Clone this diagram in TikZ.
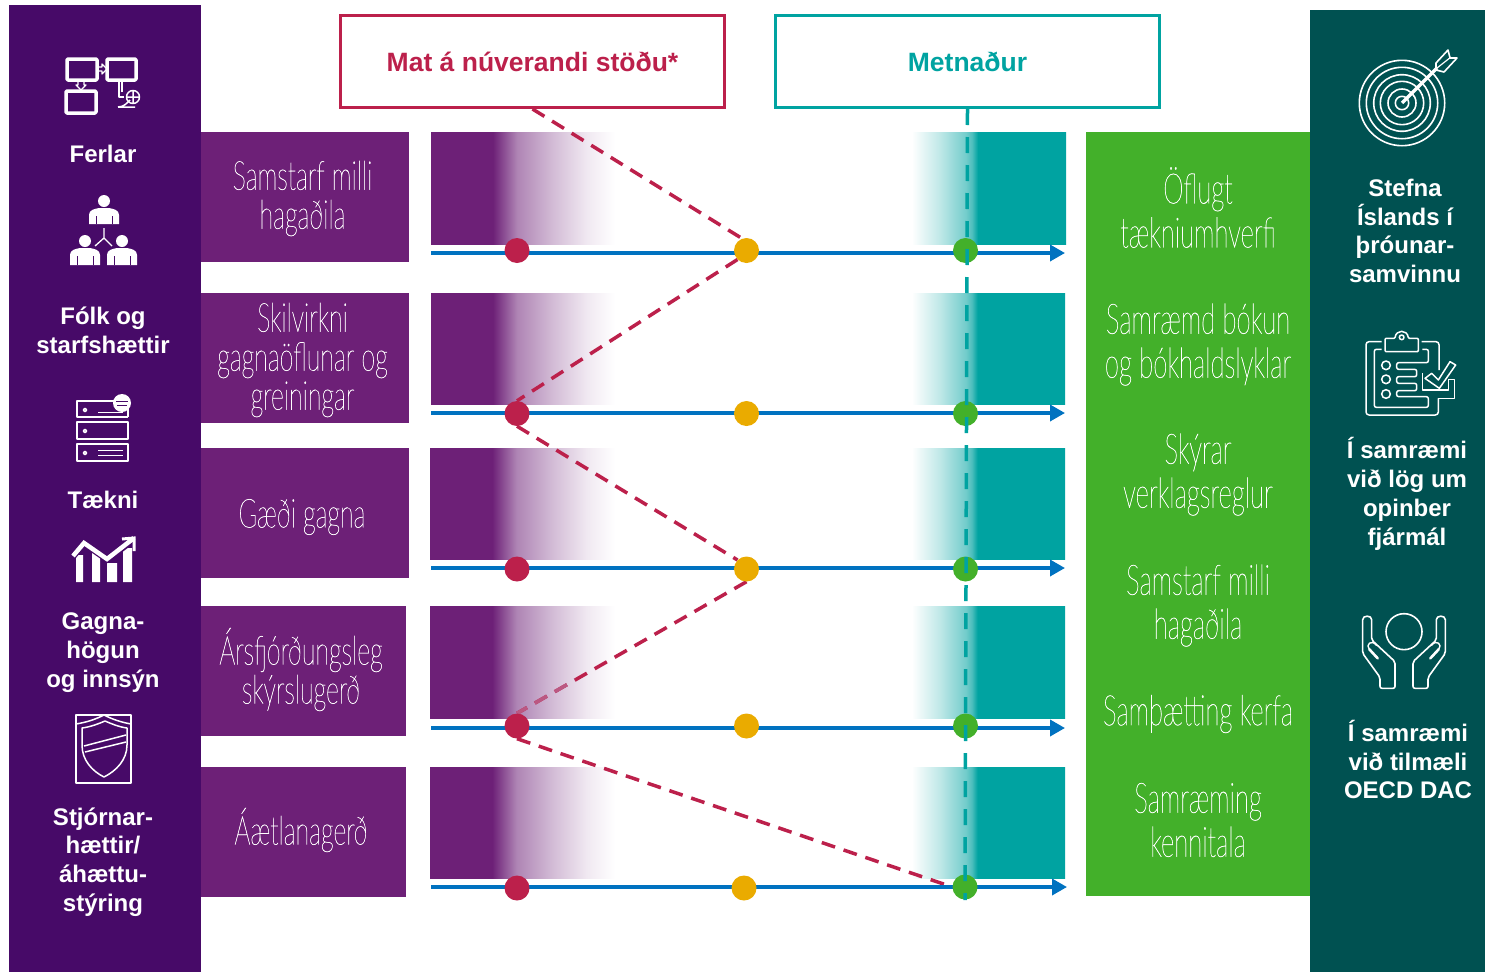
\documentclass[tikz,border=0pt]{standalone}
\usepackage{fontspec}
\setmainfont{Liberation Sans}
\newfontfamily\thinpurple[FakeStretch=0.625,FakeBold=0.7]{Lato Thin}
\newfontfamily\thingreen[FakeStretch=0.613,FakeBold=0.7]{Lato Thin}
\usetikzlibrary{arrows.meta}
\definecolor{pdark}{HTML}{470A68}
\definecolor{pmid}{HTML}{6D2077}
\definecolor{rgreen}{HTML}{005151}
\definecolor{lgreen}{HTML}{43B02A}
\definecolor{crim}{HTML}{BC204B}
\definecolor{tealc}{HTML}{00A3A1}
\definecolor{yel}{HTML}{EAAB00}
\definecolor{blu}{HTML}{0072C0}
\pgfdeclarehorizontalshading{pfade}{100bp}{color(0bp)=(pmid); color(41.8bp)=(pmid); color(44bp)=(pmid!85!white); color(48.4bp)=(pmid!55!white); color(58.2bp)=(pmid!30!white); color(67.4bp)=(pmid!10!white); color(75bp)=(white); color(100bp)=(white)}
\pgfdeclarehorizontalshading{tfade}{100bp}{color(0bp)=(white); color(25.6bp)=(white); color(34.6bp)=(tealc!25!white); color(43bp)=(tealc!55!white); color(44.9bp)=(tealc!70!white); color(46.8bp)=(tealc); color(100bp)=(tealc)}
\pgfdeclarelayer{grad}\pgfdeclarelayer{conn}\pgfdeclarelayer{top}
\pgfsetlayers{grad,conn,main,top}
\tikzset{
  panel/.style={fill=#1,draw=none,inner sep=0,outer sep=0},
  bold/.style={text=white,align=center,inner sep=0,font=\bfseries\fontsize{24}{28.8}\selectfont},
  headbox/.style={draw=#1,line width=3pt,fill=white,text=#1,inner sep=0,minimum height=92pt,minimum width=384pt,font=\bfseries\fontsize{26.5}{30}\selectfont},
  bar/.style={fill=pmid,inner sep=0,outer sep=0,minimum height=130pt,anchor=north west},
  ptext/.style={text=white,inner sep=0,align=center,font=\thinpurple\fontsize{40}{39}\selectfont},
  gtext/.style={text=white,inner sep=0,align=center,font=\thingreen\fontsize{42}{44}\selectfont},
  dot/.style={circle,inner sep=0,minimum size=25pt,fill=#1,draw=none},
  scale line/.style={blu,line width=3.5pt,-{Triangle[length=15pt,width=16pt]}},
  reddash/.style={crim,line width=3.5pt,dash pattern=on 14pt off 9pt},
  tealdash/.style={tealc,line width=3.5pt,dash pattern=on 16pt off 12pt},
  ico/.style={white,line width=#1,line join=round},
  ico/.default=1.5pt
}
\newcommand{\gradrow}[4]{% left top right bottom
  \shade[shading=pfade] (#1,#2) rectangle (615,#4-0.6);
  \shade[shading=tfade] (910,#2) rectangle (#3,#4-0.6);}
\newcommand{\person}[3]{% cx, head y, body bottom
  \fill[white] (#1,#2) circle (6pt);
  \fill[white] (#1-15,#3) -- (#1-15,#2+14) .. controls (#1-15,#2+9) and (#1-10,#2+8) .. (#1-5,#2+7) -- (#1+5,#2+7) .. controls (#1+10,#2+8) and (#1+15,#2+9) .. (#1+15,#2+14) -- (#1+15,#3) -- cycle;
  \draw[pdark,line width=.7pt] (#1-8,#3) -- (#1-8,#2+15) (#1+8,#3) -- (#1+8,#2+15);}
\begin{document}
\begin{tikzpicture}[x=1pt,y=-1pt]
\useasboundingbox (0,0) rectangle (1485,972);
% panels
\node[panel=pdark,minimum width=192pt,minimum height=967pt,anchor=north west] (leftpanel) at (9,5) {};
\node[panel=rgreen,minimum width=175pt,minimum height=962pt,anchor=north west] (rightpanel) at (1310,10) {};
\node[panel=lgreen,minimum width=224pt,minimum height=764pt,anchor=north west] (greenpanel) at (1086,132) {};
% header boxes
\node[headbox=crim] (box1) at (532.5,61.5) {\raisebox{-1.5pt}{Mat á núverandi stöðu*}};
\node[headbox=tealc] (box2) at (967.5,61.5) {\raisebox{-1.5pt}{Metnaður}};
% purple bars
\node[bar,minimum width=208pt] (b1) at (201,132) {};
\node[bar,minimum width=208pt] (b2) at (201,293) {};
\node[bar,minimum width=208pt] (b3) at (201,448) {};
\node[bar,minimum width=205pt] (b4) at (201,606) {};
\node[bar,minimum width=205pt] (b5) at (201,767) {};
\node[ptext] (pt1) at (302.5,198.5) {Samstarf milli\\hagaðila};
\node[ptext] (pt2) at (302.5,360) {Skilvirkni\\gagnaöflunar og\\greiningar};
\node[ptext] (pt3) at (302,517) {Gæði gagna};
\node[ptext] (pt4) at (301,669.5) {Ársfjórðungsleg\\skýrslugerð};
\node[ptext] (pt5) at (301,830) {Áætlanagerð};
% gradients
\begin{pgfonlayer}{grad}
\gradrow{431}{132}{1066}{245}
\gradrow{431}{293}{1065}{405}
\gradrow{430}{448}{1065}{560}
\gradrow{430}{606}{1065}{719}
\gradrow{430}{767}{1065}{879}
\end{pgfonlayer}
% scale lines
\coordinate (l1s) at (431,253); \coordinate (l1e) at (1065,253);
\coordinate (l2s) at (431,413); \coordinate (l2e) at (1065,413);
\coordinate (l3s) at (431,568); \coordinate (l3e) at (1065,568);
\coordinate (l4s) at (431,728); \coordinate (l4e) at (1065,728);
\coordinate (l5s) at (431,887); \coordinate (l5e) at (1067,887);
\foreach \i in {1,...,5}{\draw[scale line] (l\i s) -- (l\i e);}
% dots
\node[dot=crim] (r1) at (517,250.5) {}; \node[dot=yel] (y1) at (746.5,250.5) {}; \node[dot=lgreen] (g1) at (965.5,250.5) {};
\node[dot=crim] (r2) at (517,413.5) {}; \node[dot=yel] (y2) at (746.5,413.5) {}; \node[dot=lgreen] (g2) at (965.5,413.5) {};
\node[dot=crim] (r3) at (517,569) {}; \node[dot=yel] (y3) at (746.5,569) {}; \node[dot=lgreen] (g3) at (965.5,569) {};
\node[dot=crim] (r4) at (517,726) {}; \node[dot=yel] (y4) at (746.5,726) {}; \node[dot=lgreen] (g4) at (965.5,726) {};
\node[dot=crim] (r5) at (517,888) {}; \node[dot=yel] (y5) at (744,888) {}; \node[dot=lgreen] (g5) at (965,887) {};
% dashed connectors
\begin{pgfonlayer}{conn}
\draw[reddash] (box1.south) -- (y1.110);
\draw[reddash] (y1.south west) -- (r2.north);
\draw[reddash] (r2.south) -- (y3.north west);
\draw[reddash] (y3.south) -- (r4.north);
\begin{scope}
\clip (430,606) rectangle (575,719);
\draw[reddash,color=crim!70!pmid!75!white] (y3.south) -- (r4.north);
\end{scope}
\draw[reddash] (r4.south) -- (g5.west);
\end{pgfonlayer}
\begin{pgfonlayer}{top}
\coordinate (tend) at (965,900);
\draw[tealdash] (box2.south) -- (tend);
\end{pgfonlayer}
% green panel text
\node[gtext] (t1) at (1198,207.5) {Öflugt\\tækniumhverfi};
\node[gtext] (t2) at (1198,344.5) {Samræmd bókun\\og bókhaldslyklar};
\node[gtext] (t3) at (1198,474.5) {Skýrar\\verklagsreglur};
\node[gtext] (t4) at (1198,605.5) {Samstarf milli\\hagaðila};
\node[gtext] (t5) at (1198,714) {Samþætting kerfa};
\node[gtext] (t6) at (1198,820) {Samræming\\kennitala};
% left labels
\node[bold] (ll1) at (103,154) {Ferlar};
\node[bold] (ll2) at (103,330.5) {Fólk og\\starfshættir};
\node[bold] (ll3) at (103,500) {Tækni};
\node[bold] (ll4) at (103,652.5) {Gagna-\\högun\\og innsýn};
\node[bold] (ll5) at (103,862) {Stjórnar-\\hættir/\\áhættu-\\stýring};
% right labels
\node[bold] (rl1) at (1405,231) {Stefna\\Íslands í\\þróunar-\\samvinnu};
\node[bold] (rl2) at (1407,494) {Í samræmi\\við lög um\\opinber\\fjármál};
\node[bold] (rl3) at (1408,759.5) {Í samræmi\\við tilmæli\\OECD DAC};
% --- icon: processes
\begin{scope}[ico=3.5pt]
\draw[rounded corners=1pt] (67,59) rectangle (97,80);
\draw[rounded corners=1pt] (107,59) rectangle (136,80);
\draw[rounded corners=1pt] (66,91) rectangle (96,113);
\end{scope}
\draw[ico=1.2pt] (97,67) -- (102,67) -- (102,64) -- (107,69) -- (102,74) -- (102,71) -- (97,71);
\draw[ico=1.2pt] (78,80) -- (78,85) -- (76,85) -- (81,90) -- (86,85) -- (84,85) -- (84,80);
\draw[ico=1.2pt] (119,80) -- (119,97) -- (124,97) (122,80) -- (122,92);
\draw[ico=1.5pt] (133,97) circle (6.5pt) (133,90) -- (133,104) (126,97) -- (139,97);
\draw[ico=1.5pt] (118,107) .. controls (124,107) and (127,103) .. (130,100) (118,107) -- (135,107);
% --- icon: people
\person{104}{201}{224}
\person{85}{241}{265}
\person{122}{241}{265}
\draw[ico=1.3pt] (104,228) -- (104,238) (95,246) -- (104,238) -- (112,246);
% --- icon: servers
\begin{scope}[ico=1.5pt]
\draw (128,417) -- (77,417) -- (77,401) -- (128,401) -- (128,417);
\draw (77,422) rectangle (128,439);
\draw (77,444) rectangle (128,461);
\draw (85,410) circle (1.7pt) (85,431) circle (1.7pt) (85,453) circle (1.7pt);
\draw[line width=1pt] (98,412) -- (123,412) (98,450) -- (123,450) (98,455) -- (123,455);
\end{scope}
\fill[white] (122,403) circle (9pt);
\draw[pdark,line width=1pt] (116,401) -- (128,401) (117,405) -- (127,405);
% --- icon: chart
\fill[white] (76,555) rectangle (83,582) (92,552) rectangle (100,582) (107,563) rectangle (117,582) (123,548) rectangle (132,582);
\draw[pdark,line width=7pt] (73,556) -- (84,543) -- (107,559) -- (134,539);
\draw[white,line width=4.5pt] (73,556) -- (84,543) -- (107,559) -- (134,538);
\draw[white,line width=3pt] (122,539) -- (134,538) -- (134,551);
% --- icon: shield
\begin{scope}[ico=1.5pt]
\draw (76,715) rectangle (131,783);
\draw (76,724) .. controls (88,722) and (96,719) .. (104,715) .. controls (112,719) and (120,722) .. (131,724);
\draw (82,728) .. controls (90,727) and (98,724) .. (105,721) .. controls (112,724) and (119,727) .. (127,728) -- (127,745) .. controls (127,760) and (116,771) .. (104,777) .. controls (92,771) and (82,760) .. (82,745) -- cycle;
\draw (84,746) -- (126,735) (85,752) -- (126,742);
\end{scope}
% --- icon: target
\begin{scope}[ico=1.6pt]
\foreach \r in {42.7,35.7,28.3,21.7,14,6.7}{\draw (1402,103) circle (\r pt);}
\end{scope}
\draw[white,line width=3.5pt] (1402,103) -- (1437,68);
\draw[ico=1.6pt] (1436,63) -- (1448,50) -- (1450,58) -- (1457,58) -- (1444,72) -- (1436,70) -- cycle;
\draw[ico=1.2pt] (1437,68) -- (1451,57);
% --- icon: clipboard
\begin{scope}[shift={(1340,320)},scale=1/3,ico=1.5pt]
\draw[rounded corners=3pt] (125,65) -- (78,65) -- (78,285) -- (295,285) -- (295,235);
\draw[rounded corners=3pt] (245,65) -- (297,65) -- (297,150);
\draw[rounded corners=2pt] (125,88) -- (103,88) -- (103,262) -- (265,262) -- (265,230) -- (170,230) -- (170,212) -- (230,212) -- (230,190) -- (170,190) -- (170,170) -- (230,170) -- (230,148) -- (170,148) -- (170,128) -- (265,128) -- (265,88) -- (247,88);
\draw[rounded corners=1pt] (135,95) -- (135,55) -- (165,55) .. controls (168,28) and (202,28) .. (205,55) -- (235,55) -- (235,95) -- cycle;
\draw (185,52) circle (7pt);
\draw (138,136) circle (13pt) (138,178) circle (13pt) (138,222) circle (13pt);
\draw (255,175) -- (275,160) -- (295,180) -- (330,125) -- (347,135) -- (298,205) -- cycle;
\draw (248,160) -- (248,210) -- (325,210) -- (325,178) -- (343,178) -- (343,235) -- (295,235);
\end{scope}
% --- icon: hands
\begin{scope}[shift={(1340,600)},scale=1/3,ico=1.6pt]
\draw (192,95) circle (54pt);
\foreach \s/\o in {1/0,-1/384}{
\draw[rounded corners=2pt] (\o+\s*120,265) -- (\o+\s*120,232) -- (\o+\s*68,160) -- (\o+\s*68,65) .. controls (\o+\s*68,45) and (\o+\s*95,45) .. (\o+\s*95,65) -- (\o+\s*95,120) -- (\o+\s*165,185) -- (\o+\s*165,265) -- cycle;
\draw[line width=2.6pt,line cap=round] (\o+\s*113,175) -- (\o+\s*88,148);
\draw[line width=1.4pt] (\o+\s*88,148) .. controls (\o+\s*75,135) and (\o+\s*95,115) .. (\o+\s*110,137);
}
\end{scope}
\end{tikzpicture}
\end{document}
